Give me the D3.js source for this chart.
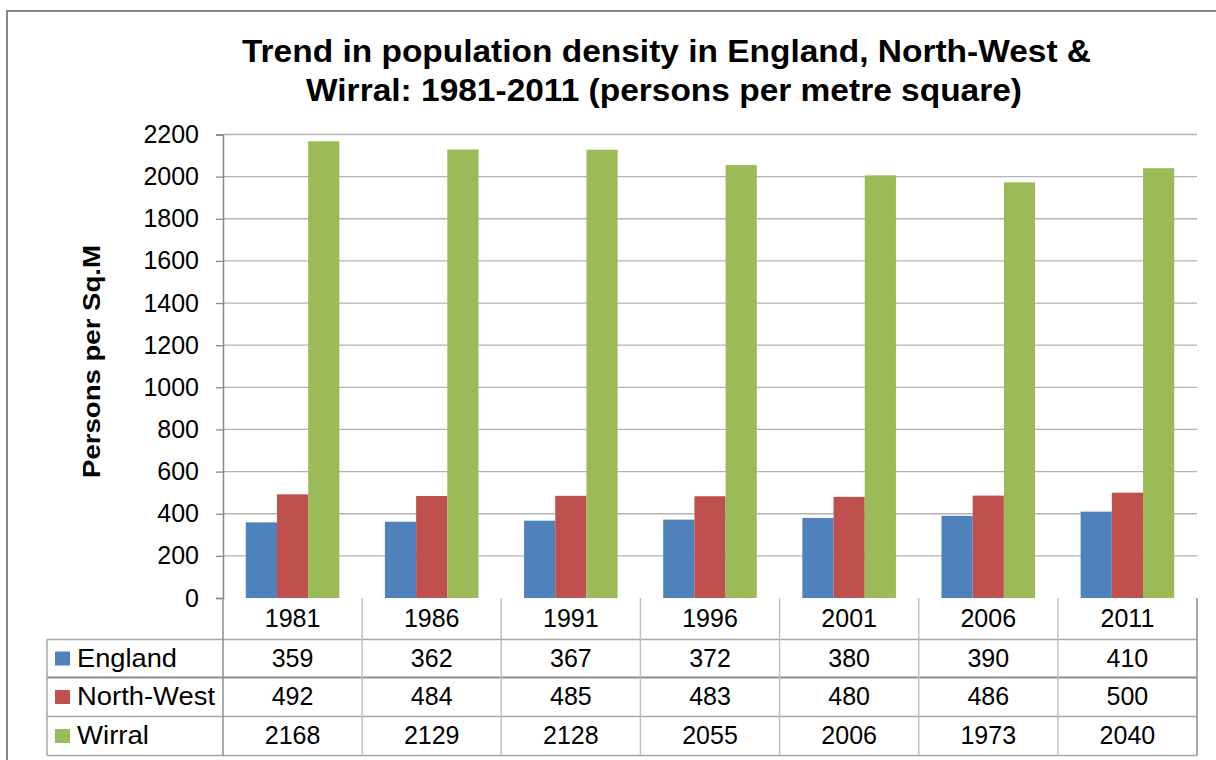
<!DOCTYPE html>
<html>
<head>
<meta charset="utf-8">
<script src="https://cdn.jsdelivr.net/npm/d3@7"></script>
<style>
  html, body { margin: 0; padding: 0; background: #fff; }
  svg { display: block; font-family: "Liberation Sans", Arial, sans-serif; }
</style>
</head>
<body>
<div id="chart"></div>
<script>
// Chart data
const years = ["1981", "1986", "1991", "1996", "2001", "2006", "2011"];
const seriesNames = ["England", "North-West", "Wirral"];
const england = [359, 362, 367, 372, 380, 390, 410];
const northWest = [492, 484, 485, 483, 480, 486, 500];
const wirral = [2168, 2129, 2128, 2055, 2006, 1973, 2040];
const yTicks = [0, 200, 400, 600, 800, 1000, 1200, 1400, 1600, 1800, 2000, 2200];
const colors = ["#4F81BD", "#C0504D", "#9BBB59"];

const seriesValues = [england, northWest, wirral];
// widths of the stretched legend labels in the table
const labelWidths = [100, 138, 72];

const width = 1216;
const height = 760;
const plot = { left: 223, right: 1197, top: 134.5, bottom: 598 };
const tableLeft = 47;
const rowLines = [598, 639.5, 677.5, 716.5, 755.5];
const rowBaselines = [627, 666.5, 705, 744];

const svg = d3.select("#chart")
  .append("svg")
  .attr("width", width)
  .attr("height", height);

// Outer chart border
svg.append("rect")
  .attr("x", 7)
  .attr("y", 11)
  .attr("width", 1230)
  .attr("height", 780)
  .attr("fill", "none")
  .attr("stroke", "#868686")
  .attr("stroke-width", 2);

// Scales
const x0 = d3.scaleBand()
  .domain(years)
  .range([plot.left, plot.right])
  .padding(0);

const x1 = d3.scaleBand()
  .domain(seriesNames)
  .range([0, x0.bandwidth()])
  .paddingInner(0)
  .paddingOuter(0.73);

const y = d3.scaleLinear()
  .domain([0, 2200])
  .range([plot.bottom, plot.top]);

// Gridlines
svg.append("g")
  .selectAll("line")
  .data(yTicks.filter(d => d > 0))
  .enter()
  .append("line")
  .attr("x1", plot.left)
  .attr("x2", plot.right)
  .attr("y1", d => y(d))
  .attr("y2", d => y(d))
  .attr("stroke", "#b3b3b3")
  .attr("stroke-width", 1.3);

// Y axis
const yAxis = svg.append("g")
  .attr("transform", `translate(${plot.left}, 0)`)
  .call(d3.axisLeft(y).tickValues(yTicks).tickFormat(d3.format("d")).tickSize(7).tickPadding(17));
yAxis.select(".domain").attr("stroke", "#868686").attr("stroke-width", 1.5);
yAxis.selectAll(".tick line").attr("stroke", "#868686").attr("stroke-width", 1.3);
yAxis.selectAll("text")
  .attr("font-size", 25)
  .attr("font-family", "Liberation Sans, Arial, sans-serif")
  .attr("fill", "#000");

// Bars
const groups = svg.append("g")
  .selectAll("g")
  .data(years)
  .enter()
  .append("g")
  .attr("transform", d => `translate(${x0(d)}, 0)`);

groups.selectAll("rect")
  .data((yr, i) => seriesNames.map((s, j) => ({ s, j, v: seriesValues[j][i] })))
  .enter()
  .append("rect")
  .attr("x", d => x1(d.s))
  .attr("y", d => y(d.v))
  .attr("width", x1.bandwidth())
  .attr("height", d => y(0) - y(d.v))
  .attr("fill", d => colors[d.j]);

// Data table
const table = svg.append("g");
const gridColor = "#a6a6a6";

// horizontal lines
rowLines.slice(1).forEach((ly, i) => {
  table.append("line")
    .attr("x1", tableLeft)
    .attr("x2", plot.right)
    .attr("y1", ly)
    .attr("y2", ly)
    .attr("stroke", i === 1 ? "#8c8c8c" : gridColor)
    .attr("stroke-width", i === 1 ? 2 : 1.5);
});

// vertical lines
const colEdges = years.map(d => x0(d)).concat([plot.right]);
colEdges.forEach((cx, i) => {
  table.append("line")
    .attr("x1", cx)
    .attr("x2", cx)
    .attr("y1", rowLines[0])
    .attr("y2", rowLines[4])
    .attr("stroke", i === 0 || i === colEdges.length - 1 ? "#8c8c8c" : "#c0c0c0")
    .attr("stroke-width", 1.5);
});
table.append("line")
  .attr("x1", tableLeft)
  .attr("x2", tableLeft)
  .attr("y1", rowLines[1])
  .attr("y2", rowLines[4])
  .attr("stroke", gridColor)
  .attr("stroke-width", 1.5);

// year header
table.selectAll(".year")
  .data(years)
  .enter()
  .append("text")
  .attr("class", "year")
  .attr("x", d => x0(d) + x0.bandwidth() / 2)
  .attr("y", rowBaselines[0])
  .attr("text-anchor", "middle")
  .attr("font-size", 25)
  .text(d => d);

// series rows
seriesNames.forEach((s, j) => {
  const top = rowLines[j + 1];
  const bot = rowLines[j + 2];
  const mid = (top + bot) / 2;
  table.append("rect")
    .attr("x", 55)
    .attr("y", mid - 7)
    .attr("width", 15)
    .attr("height", 14)
    .attr("fill", colors[j]);
  table.append("text")
    .attr("x", 77)
    .attr("y", rowBaselines[j + 1])
    .attr("font-size", 25)
    .attr("textLength", labelWidths[j])
    .attr("lengthAdjust", "spacingAndGlyphs")
    .text(s);
  table.selectAll(".v" + j)
    .data(seriesValues[j])
    .enter()
    .append("text")
    .attr("x", (d, i) => x0(years[i]) + x0.bandwidth() / 2)
    .attr("y", rowBaselines[j + 1])
    .attr("text-anchor", "middle")
    .attr("font-size", 25)
    .text(d => d);
});

// Title
svg.append("text")
  .attr("x", 242)
  .attr("y", 62)
  .attr("font-size", 31)
  .attr("font-weight", "bold")
  .attr("textLength", 849)
  .attr("lengthAdjust", "spacingAndGlyphs")
  .text("Trend in population density in England, North-West &");
svg.append("text")
  .attr("x", 306)
  .attr("y", 101)
  .attr("font-size", 31)
  .attr("font-weight", "bold")
  .attr("textLength", 716)
  .attr("lengthAdjust", "spacingAndGlyphs")
  .text("Wirral: 1981-2011 (persons per metre square)");

// Y axis label
svg.append("text")
  .attr("transform", `translate(100, 478) rotate(-90)`)
  .attr("font-size", 24)
  .attr("font-weight", "bold")
  .attr("textLength", 233)
  .attr("lengthAdjust", "spacingAndGlyphs")
  .text("Persons per Sq.M");
</script>
</body>
</html>
